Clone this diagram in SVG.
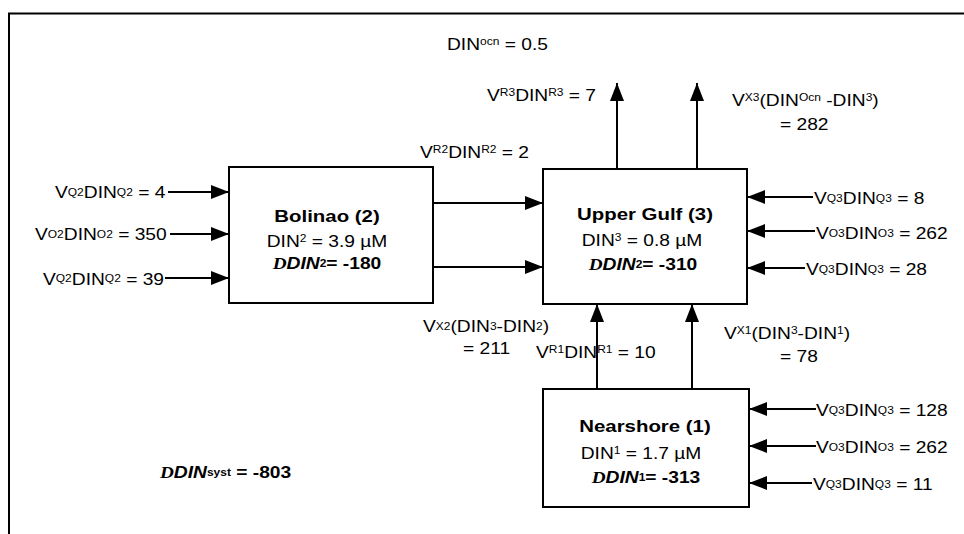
<svg xmlns="http://www.w3.org/2000/svg" width="964" height="534" viewBox="0 0 964 534">
<style>
text{font-family:"Liberation Sans",Arial,sans-serif;font-size:16px;fill:#000}
.s{font-size:10px}
.b{font-weight:bold}
.bt{font-weight:bold;font-size:17px}
.di{font-family:"Liberation Serif",serif;font-weight:bold;font-style:italic}
.bi{font-weight:bold;font-style:italic}
.box{fill:#fff;stroke:#000;stroke-width:2}
.ln{stroke:#000;stroke-width:2;fill:none;marker-end:url(#ah)}
</style>
<defs>
<marker id="ah" viewBox="0 0 18 14" refX="18" refY="7" markerWidth="18" markerHeight="14" orient="auto" markerUnits="userSpaceOnUse"><path d="M0,0 L18,7 L0,14 z" fill="#000"/></marker>
</defs>
<rect x="0" y="0" width="964" height="534" fill="#fff"/>
<rect x="9" y="13.5" width="1000" height="600" fill="none" stroke="#000" stroke-width="2"/>

<g id="connectors">
<line class="ln" x1="168" y1="192" x2="229" y2="192"/>
<line class="ln" x1="170" y1="234" x2="229" y2="234"/>
<line class="ln" x1="165" y1="278" x2="229" y2="278"/>
<line class="ln" x1="433" y1="203" x2="543" y2="203"/>
<line class="ln" x1="433" y1="267" x2="543" y2="267"/>
<line class="ln" x1="617" y1="169" x2="617" y2="83"/>
<line class="ln" x1="697" y1="169" x2="697" y2="83"/>
<line class="ln" x1="597" y1="389" x2="597" y2="304"/>
<line class="ln" x1="692" y1="389" x2="692" y2="304"/>
<line class="ln" x1="813" y1="197" x2="747" y2="197"/>
<line class="ln" x1="815" y1="231" x2="747" y2="231"/>
<line class="ln" x1="805" y1="268" x2="747" y2="268"/>
<line class="ln" x1="816" y1="409" x2="749" y2="409"/>
<line class="ln" x1="816" y1="446" x2="749" y2="446"/>
<line class="ln" x1="812" y1="483" x2="749" y2="483"/>
</g>

<g id="bolinao">
<rect class="box" x="229" y="167" width="204" height="136"/>
<text class="bt" text-anchor="middle" transform="translate(327,222) scale(1.2,1)">Bolinao (2)</text>
<text text-anchor="middle" transform="translate(327,247) scale(1.2,1)">DIN<tspan class="s" dy="-5">2</tspan><tspan dy="5"> = 3.9 µM</tspan></text>
<text class="b" text-anchor="middle" transform="translate(327,269) scale(1.2,1)"><tspan class="di">D</tspan><tspan class="bi">DIN</tspan><tspan class="s" dy="-2">2</tspan><tspan dy="2">= -180</tspan></text>
</g>

<g id="upper-gulf">
<rect class="box" x="543" y="169" width="204" height="135"/>
<text class="bt" text-anchor="middle" transform="translate(645,220) scale(1.2,1)">Upper Gulf (3)</text>
<text text-anchor="middle" transform="translate(642,246) scale(1.2,1)">DIN<tspan class="s" dy="-5">3</tspan><tspan dy="5"> = 0.8 µM</tspan></text>
<text class="b" text-anchor="middle" transform="translate(643,270) scale(1.2,1)"><tspan class="di">D</tspan><tspan class="bi">DIN</tspan><tspan class="s" dy="-2">2</tspan><tspan dy="2">= -310</tspan></text>
</g>

<g id="nearshore">
<rect class="box" x="543" y="389" width="206" height="118"/>
<text class="bt" text-anchor="middle" transform="translate(645,432) scale(1.2,1)">Nearshore (1)</text>
<text text-anchor="middle" transform="translate(641,459) scale(1.2,1)">DIN<tspan class="s" dy="-5">1</tspan><tspan dy="5"> = 1.7 µM</tspan></text>
<text class="b" text-anchor="middle" transform="translate(646,483) scale(1.2,1)"><tspan class="di">D</tspan><tspan class="bi">DIN</tspan><tspan class="s" dy="-2">1</tspan><tspan dy="2">= -313</tspan></text>
</g>

<g id="labels">
<text transform="translate(447,50) scale(1.2,1)">DIN<tspan class="s" dy="-5">ocn</tspan><tspan dy="5"> = 0.5</tspan></text>
<text transform="translate(487,101) scale(1.2,1)">V<tspan class="s" dy="-5">R3</tspan><tspan dy="5">DIN</tspan><tspan class="s" dy="-5">R3</tspan><tspan dy="5"> = 7</tspan></text>
<text transform="translate(420,158) scale(1.2,1)">V<tspan class="s" dy="-5">R2</tspan><tspan dy="5">DIN</tspan><tspan class="s" dy="-5">R2</tspan><tspan dy="5"> = 2</tspan></text>
<text transform="translate(732,106) scale(1.2,1)">V<tspan class="s" dy="-5">X3</tspan><tspan dy="5">(DIN</tspan><tspan class="s" dy="-5">Ocn</tspan><tspan dy="5"> -DIN</tspan><tspan class="s" dy="-5">3</tspan><tspan dy="5">)</tspan></text>
<text transform="translate(780,130) scale(1.2,1)">= 282</text>

<text transform="translate(55,198) scale(1.2,1)">V<tspan class="s" dy="-2">Q2</tspan><tspan dy="2">DIN</tspan><tspan class="s" dy="-2">Q2</tspan><tspan dy="2"> = 4</tspan></text>
<text transform="translate(35,240) scale(1.2,1)">V<tspan class="s" dy="-2">O2</tspan><tspan dy="2">DIN</tspan><tspan class="s" dy="-2">O2</tspan><tspan dy="2"> = 350</tspan></text>
<text transform="translate(43,285) scale(1.2,1)">V<tspan class="s" dy="-3">Q2</tspan><tspan dy="3">DIN</tspan><tspan class="s" dy="-3">Q2</tspan><tspan dy="3"> = 39</tspan></text>

<text transform="translate(814,204) scale(1.2,1)">V<tspan class="s" dy="-2">Q3</tspan><tspan dy="2">DIN</tspan><tspan class="s" dy="-2">Q3</tspan><tspan dy="2"> = 8</tspan></text>
<text transform="translate(816,239) scale(1.2,1)">V<tspan class="s" dy="-2">O3</tspan><tspan dy="2">DIN</tspan><tspan class="s" dy="-2">O3</tspan><tspan dy="2"> = 262</tspan></text>
<text transform="translate(806,275) scale(1.2,1)">V<tspan class="s" dy="-2">Q3</tspan><tspan dy="2">DIN</tspan><tspan class="s" dy="-2">Q3</tspan><tspan dy="2"> = 28</tspan></text>

<text transform="translate(816,416) scale(1.2,1)">V<tspan class="s" dy="-2">Q3</tspan><tspan dy="2">DIN</tspan><tspan class="s" dy="-2">Q3</tspan><tspan dy="2"> = 128</tspan></text>
<text transform="translate(816,453) scale(1.2,1)">V<tspan class="s" dy="-2">O3</tspan><tspan dy="2">DIN</tspan><tspan class="s" dy="-2">O3</tspan><tspan dy="2"> = 262</tspan></text>
<text transform="translate(813,490) scale(1.2,1)">V<tspan class="s" dy="-2">Q3</tspan><tspan dy="2">DIN</tspan><tspan class="s" dy="-2">Q3</tspan><tspan dy="2"> = 11</tspan></text>

<text transform="translate(423,332) scale(1.2,1)">V<tspan class="s" dy="-2">X2</tspan><tspan dy="2">(DIN</tspan><tspan class="s" dy="-2">3</tspan><tspan dy="2">-DIN</tspan><tspan class="s" dy="-2">2</tspan><tspan dy="2">)</tspan></text>
<text transform="translate(463,354) scale(1.2,1)">= 211</text>
<text transform="translate(536,358) scale(1.2,1)">V<tspan class="s" dy="-5">R1</tspan><tspan dy="5">DIN</tspan><tspan class="s" dy="-5">R1</tspan><tspan dy="5"> = 10</tspan></text>
<text transform="translate(724,339) scale(1.2,1)">V<tspan class="s" dy="-5">X1</tspan><tspan dy="5">(DIN</tspan><tspan class="s" dy="-5">3</tspan><tspan dy="5">-DIN</tspan><tspan class="s" dy="-5">1</tspan><tspan dy="5">)</tspan></text>
<text transform="translate(780,362) scale(1.2,1)">= 78</text>

<text class="b" transform="translate(160,478) scale(1.2,1)"><tspan class="di">D</tspan><tspan class="bi">DIN</tspan><tspan class="s" dy="-2">syst</tspan><tspan dy="2"> = -803</tspan></text>
</g>
</svg>
